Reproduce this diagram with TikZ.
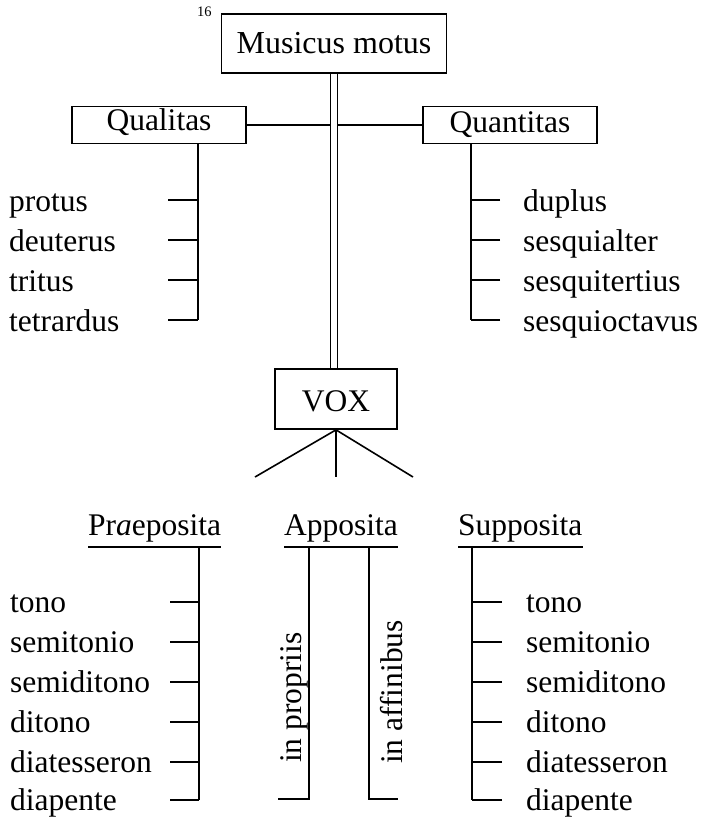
\documentclass[tikz,border=0pt]{standalone}
\usepackage{fontspec}
\setmainfont{Liberation Serif}
\usetikzlibrary{calc}
\begin{document}
\begin{tikzpicture}[x=1pt,y=-1pt,
  lbl/.style={font=\fontsize{31.5}{36}\selectfont, inner sep=0pt, anchor=base west},
  box/.style={draw, line width=1.7pt, font=\fontsize{31.5}{36}\selectfont,
              inner sep=0pt, text height=22pt, text depth=3pt},
  ln/.style={line width=1.6pt},
  twin/.style={line width=1.4pt, double distance=5.3pt}
]
\fill[white] (0,0) rectangle (704,820);
\path[use as bounding box] (0,0) rectangle (704,820);

% top of the tree
\node[anchor=base west, inner sep=0pt, font=\fontsize{14.5}{16}\selectfont] (page) at (197,16.7) {16};
\node[box, minimum width=225pt, minimum height=59pt, font=\fontsize{32}{36}\selectfont] (motus) at (334,43.5) {Musicus motus};
\node[box, minimum width=174pt, minimum height=37pt, text depth=11pt] (qual) at (159,125) {Qualitas};
\node[box, minimum width=174pt, minimum height=37pt, text depth=8pt] (quant) at (510,125) {Quantitas};
\node[box, minimum width=122pt, minimum height=60pt, text height=25pt, text depth=0pt] (vox) at (336,399) {VOX};

% double stem from Musicus motus down to VOX
\draw[twin] (motus.south) -- (motus.south |- vox.north);
\draw[ln] (qual.east) -- ($(qual.east -| motus.south)+(-4,0)$);
\draw[ln] (quant.west) -- ($(quant.west -| motus.south)+(4,0)$);

% Qualitas branch
\foreach \name/\yy in {protus/200, deuterus/240, tritus/280, tetrardus/320} {
  \node[lbl] (\name) at (9,\yy+11) {\name};
  \coordinate (\name-t) at (168,\yy);
  \coordinate (\name-e) at (197.7,\yy);
  \draw[ln] (\name-t) -- (\name-e);
}
\draw[ln] (qual.south -| tetrardus-e) -- (tetrardus-e);

% Quantitas branch
\foreach \name/\yy in {duplus/200, sesquialter/240, sesquitertius/280, sesquioctavus/320} {
  \node[lbl] (\name) at (523,\yy+11) {\name};
  \coordinate (\name-t) at (500,\yy);
  \coordinate (\name-e) at (470.7,\yy);
  \draw[ln] (\name-t) -- (\name-e);
}
\draw[ln] (quant.south -| sesquioctavus-e) -- (sesquioctavus-e);

% fan below VOX
\coordinate (fanl) at (255,477);
\coordinate (fanm) at (336,477);
\coordinate (fanr) at (413,477);
\draw[ln] (vox.south) -- (fanl);
\draw[ln] (vox.south) -- (fanm);
\draw[ln] (vox.south) -- (fanr);

% headings with underlines
\node[lbl, text depth=12pt] (prae) at (88,535) {Pr\textit{a}eposita};
\node[lbl, text depth=12pt] (app) at (284,535) {Apposita};
\node[lbl, text depth=12pt] (supp) at (458,535) {Supposita};
\draw[ln] (prae.south west) -- (prae.south east);
\draw[ln] (app.south west) -- (app.south east);
\draw[ln] (supp.south west) -- (supp.south east);

% Praeposita branch
\foreach \i/\txt/\yy in {1/tono/602, 2/semitonio/642, 3/semiditono/682, 4/ditono/722, 5/diatesseron/762, 6/diapente/800} {
  \node[lbl] (pl\i) at (10,\yy+10.5) {\txt};
  \coordinate (pl\i-t) at (170,\yy);
  \coordinate (pl\i-e) at (199,\yy);
  \draw[ln] (pl\i-t) -- (pl\i-e);
}
\draw[ln] (prae.south -| pl6-e) -- (pl6-e);

% Supposita branch
\foreach \i/\txt/\yy in {1/tono/602, 2/semitonio/642, 3/semiditono/682, 4/ditono/722, 5/diatesseron/762, 6/diapente/800} {
  \node[lbl] (sl\i) at (526,\yy+10.5) {\txt};
  \coordinate (sl\i-t) at (502,\yy);
  \coordinate (sl\i-e) at (472,\yy);
  \draw[ln] (sl\i-t) -- (sl\i-e);
}
\draw[ln] (supp.south -| sl6-e) -- (sl6-e);

% Apposita branch
\coordinate (ap1) at (309,799);
\coordinate (ap1t) at (278,799);
\coordinate (ap2) at (369,799);
\coordinate (ap2t) at (398,799);
\draw[ln] (app.south -| ap1) -- (ap1) -- (ap1t);
\draw[ln] (app.south -| ap2) -- (ap2) -- (ap2t);
\node[lbl, rotate=90] (propriis) at (301,763) {in propriis};
\node[lbl, rotate=90] (affinibus) at (402,764) {in affinibus};
\end{tikzpicture}
\end{document}
